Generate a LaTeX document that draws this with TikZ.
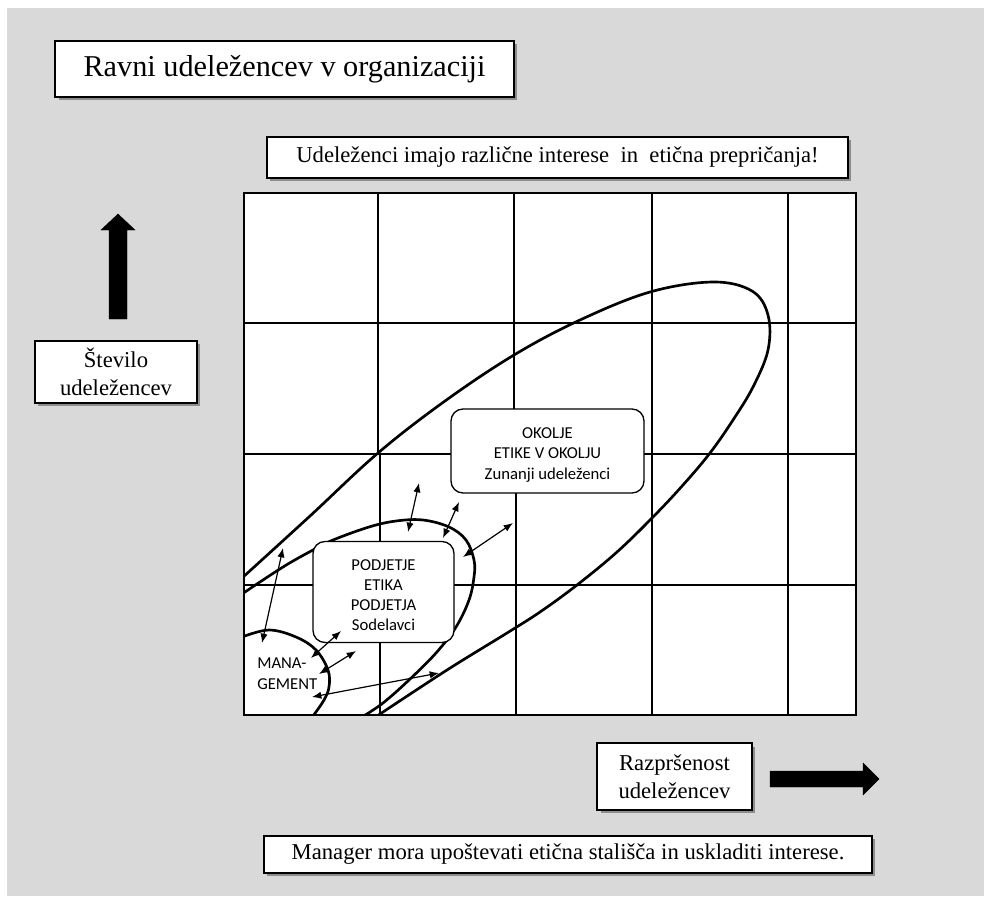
\documentclass[tikz,border=0pt]{standalone}
\usepackage{fontspec}
\setmainfont{Liberation Serif}
\newfontfamily\calfont{Carlito}
\usetikzlibrary{arrows.meta,shadows}
\definecolor{bggray}{HTML}{D9D9D9}
\begin{document}
\begin{tikzpicture}[x=0.75pt,y=-0.75pt,
  tbox/.style={draw=black, line width=1.2pt, fill=white, inner sep=0pt, align=center,
    drop shadow={shadow xshift=2.5pt, shadow yshift=-2.5pt, fill=black, opacity=0.35},
    font=\fontsize{17pt}{21pt}\selectfont},
  rbox/.style={draw=black, line width=1pt, fill=white, rounded corners=9pt, inner sep=0pt,
    align=center, font=\calfont\fontsize{12.5pt}{15.6pt}\selectfont},
  gridline/.style={line width=1.4pt},
  curve/.style={line width=2pt, line join=round},
  dbl/.style={line width=0.9pt, {Latex[length=7pt,width=5.5pt]}-{Latex[length=7pt,width=5.5pt]}},
  bigarrow/.style={fill=black, draw=black, line width=0.3pt}
]
\useasboundingbox (0,0) rectangle (991,896);
\fill[white] (0,0) rectangle (991,896);
\fill[bggray] (7,8) rectangle (984,896);

% grid
\fill[white] (244,193) rectangle (856,715);
\draw[gridline] (244,193) rectangle (856,715);
\draw[gridline] (244,323) -- (856,323);
\draw[gridline] (244,454) -- (856,454);
\draw[gridline] (244,585) -- (856,585);
\draw[gridline] (378,193) -- (378,454);
\draw[gridline] (380,454) -- (380,715);
\draw[gridline] (514,193) -- (514,454);
\draw[gridline] (516,454) -- (516,715);
\draw[gridline] (652,193) -- (652,715);
\draw[gridline] (788,193) -- (788,715);

% curves
\begin{scope}
\clip (244,193) rectangle (856,715);
\draw[curve] plot[smooth, tension=0.6] coordinates {
  (242,578) (310,516) (378,453) (445,401) (514,355) (580,320) (650,292) (713,282)
  (752,291) (768,315) (768,350) (753,387) (733,420) (710,453) (683,485) (653,517)
  (617,552) (577,585) (540,612) (507,633) (447,670) (377,716)};
\draw[curve] plot[smooth, tension=0.6] coordinates {
  (242,594) (283,567) (313,550) (333,540) (369,527) (396,521) (423,520) (449,527)
  (466,540) (474,560) (474,577) (469,600) (456,627) (436,653) (409,680) (383,703) (362,717)};
\draw[curve] plot[smooth, tension=0.6] coordinates {
  (242,637) (269,630) (296,637) (316,650) (328,670) (329,687) (324,700) (313,716)};
\end{scope}

% rounded boxes
\node[rbox, minimum width=144.75pt, minimum height=63pt] (okolje) at (547.5,451)
  {};
\node[align=center, inner sep=0pt, font=\calfont\fontsize{12.5pt}{15.6pt}\selectfont]
  (okoljetext) at (547.5,455) {OKOLJE\\ETIKE V OKOLJU\\Zunanji udeleženci};
\node[rbox, minimum width=105.75pt, minimum height=75.75pt] (podjetje) at (383.5,592) {};
\node[align=center, inner sep=0pt, font=\calfont\fontsize{12.5pt}{15pt}\selectfont]
  (podjetjetext) at (383.5,595) {PODJETJE\\ETIKA\\PODJETJA\\Sodelavci};
\node[align=left, inner sep=0pt, anchor=west, font=\calfont\fontsize{12.5pt}{15.8pt}\selectfont]
  (mgmt) at (257,674) {MANA-\\GEMENT};

% double arrows
\coordinate (a1s) at (283,548); \coordinate (a1e) at (262,643);
\coordinate (a2s) at (419,483); \coordinate (a2e) at (408,532);
\coordinate (a3s) at (459,502); \coordinate (a3e) at (443,538);
\coordinate (a4s) at (513,523); \coordinate (a4e) at (463,557);
\coordinate (a5s) at (341,631); \coordinate (a5e) at (311,658);
\coordinate (a6s) at (356,651); \coordinate (a6e) at (319,674);
\coordinate (a7s) at (439,673); \coordinate (a7e) at (312,697);
\draw[dbl] (a1s) -- (a1e);
\draw[dbl] (a2s) -- (a2e);
\draw[dbl] (a3s) -- (a3e);
\draw[dbl] (a4s) -- (a4e);
\draw[dbl] (a5s) -- (a5e);
\draw[dbl] (a6s) -- (a6e);
\draw[dbl] (a7s) -- (a7e);

% text boxes
\node[tbox, minimum width=344pt, minimum height=42pt, font=\fontsize{22.7pt}{27pt}\selectfont]
  (title) at (284.5,69) {Ravni udeležencev v organizaciji};
\node[tbox, minimum width=435.75pt, minimum height=30.75pt]
  (interest) at (557.5,157.5) {Udeleženci imajo različne interese\ \ in\ \ etična prepričanja!};
\node[tbox, minimum width=121.5pt, minimum height=46.5pt]
  (stevilo) at (116,372) {Število\\udeležencev};
\node[tbox, minimum width=116pt, minimum height=50pt]
  (razp) at (674.5,776.5) {Razpršenost\\udeležencev};
\node[tbox, minimum width=456pt, minimum height=27.75pt]
  (manager) at (568,854.5) {Manager mora upoštevati etična stališča in uskladiti interese.};

% thick arrows
\fill[bigarrow] (109,319) -- (109,230) -- (101,230) -- (118,214) -- (135,230) -- (127,230) -- (127,319) -- cycle;
\fill[bigarrow] (770,771) -- (863,771) -- (863,763) -- (879,779) -- (863,795) -- (863,787) -- (770,787) -- cycle;
\end{tikzpicture}
\end{document}
